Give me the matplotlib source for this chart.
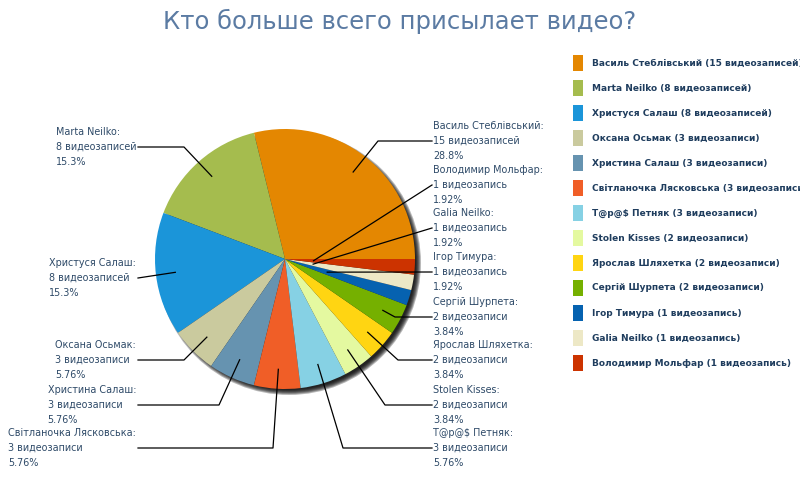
import numpy as np
import matplotlib
matplotlib.use("Agg")
import matplotlib.pyplot as plt
from matplotlib.patches import Circle, Rectangle

names = ["Василь Стеблівський", "Marta Neilko", "Христуся Салаш", "Оксана Осьмак",
         "Христина Салаш", "Світланочка Лясковська", "T@p@$ Петняк", "Stolen Kisses",
         "Ярослав Шляхетка", "Сергій Шурпета", "Ігор Тимура", "Galia Neilko",
         "Володимир Мольфар"]
counts = [15, 8, 8, 3, 3, 3, 3, 2, 2, 2, 1, 1, 1]
colors = ["#E48701", "#A5BC4E", "#1B95D9", "#CACA9E", "#6693B0", "#F05E27", "#86D1E4",
          "#E4F9A0", "#FFD512", "#75B000", "#0662B0", "#EDE8C6", "#CC3300"]
title = "Кто больше всего присылает видео?"


def word(n):
    if n == 1:
        return "видеозапись"
    if n < 5:
        return "видеозаписи"
    return "видеозаписей"


def pct(v):
    # three significant digits, cut off rather than rounded
    k = 3 - len(str(int(v)))
    return ("%." + str(k) + "f") % (np.floor(v * 10 ** k) / 10 ** k)


# label layout in pixels: (side, text x, middle-line y, elbow x, pointer radius fraction)
label_pos = {
    "Василь Стеблівський": ("r", 433, 141, 378, 0.85),
    "Володимир Мольфар": ("r", 433, 185, None, 0.22),
    "Galia Neilko": ("r", 433, 228, None, 0.22),
    "Ігор Тимура": ("r", 433, 272, None, 0.34),
    "Сергій Шурпета": ("r", 433, 317, 395, 0.85),
    "Ярослав Шляхетка": ("r", 433, 360, 398, 0.85),
    "Stolen Kisses": ("r", 433, 405, 385, 0.85),
    "T@p@$ Петняк": ("r", 433, 448, 343, 0.85),
    "Marta Neilko": ("l", 136, 147, 184, 0.85),
    "Христуся Салаш": ("l", 136, 278, None, 0.85),
    "Оксана Осьмак": ("l", 136, 360, 184, 0.85),
    "Христина Салаш": ("l", 136, 405, 219, 0.85),
    "Світланочка Лясковська": ("l", 136, 448, 273, 0.85),
}

cx, cy, R = 285, 259, 130
text_color = "#2E4A68"

fig = plt.figure(figsize=(8, 5), dpi=100)
ax = fig.add_axes([0, 0, 1, 1])

# drop shadow, a few stacked discs to fake the blur
for i in range(6):
    ax.add_patch(Circle((cx + 4, cy + 4), R + 2 - i, color="black", alpha=0.28, lw=0, zorder=1))

wedges, _ = ax.pie(counts, colors=colors, startangle=0, counterclock=False,
                   center=(cx, cy), radius=R, wedgeprops=dict(lw=0))
for w in wedges:
    w.set_zorder(2)

ax.set_xlim(0, 800)
ax.set_ylim(500, 0)
ax.set_aspect("auto")
ax.axis("off")

total = sum(counts)
for w, name, n in zip(wedges, names, counts):
    side, tx, ty, ex, rf = label_pos[name]
    mid = np.deg2rad((w.theta1 + w.theta2) / 2)
    px = cx + rf * R * np.cos(mid)
    py = cy + rf * R * np.sin(mid)
    txt = "%s:\n%d %s\n%s%%" % (name, n, word(n), pct(100.0 * n / total))
    ha = "left" if side == "r" else "right"
    ax.text(tx, ty, txt, ha=ha, va="center", multialignment="left",
            fontsize=6.9, color=text_color, linespacing=1.64, zorder=4)
    sx = tx - 1 if side == "r" else tx + 2
    if ex is None:
        xs, ys = [sx, px], [ty, py]
    else:
        xs, ys = [sx, ex, px], [ty, ty, py]
    ax.plot(xs, ys, color="black", lw=0.9, zorder=3)

# legend
for i, (name, n, c) in enumerate(zip(names, counts, colors)):
    y = 63 + i * 25
    ax.add_patch(Rectangle((573, y - 8), 10, 16, color=c, lw=0, zorder=3))
    ax.text(592, y, "%s (%d %s)" % (name, n, word(n)), ha="left", va="center",
            fontsize=6.5, fontweight="bold", color="#1F3D5E", zorder=4)

ax.text(400, 21, title, ha="center", va="center", fontsize=17.5, color="#5B7BA3")

plt.savefig("out.png")
